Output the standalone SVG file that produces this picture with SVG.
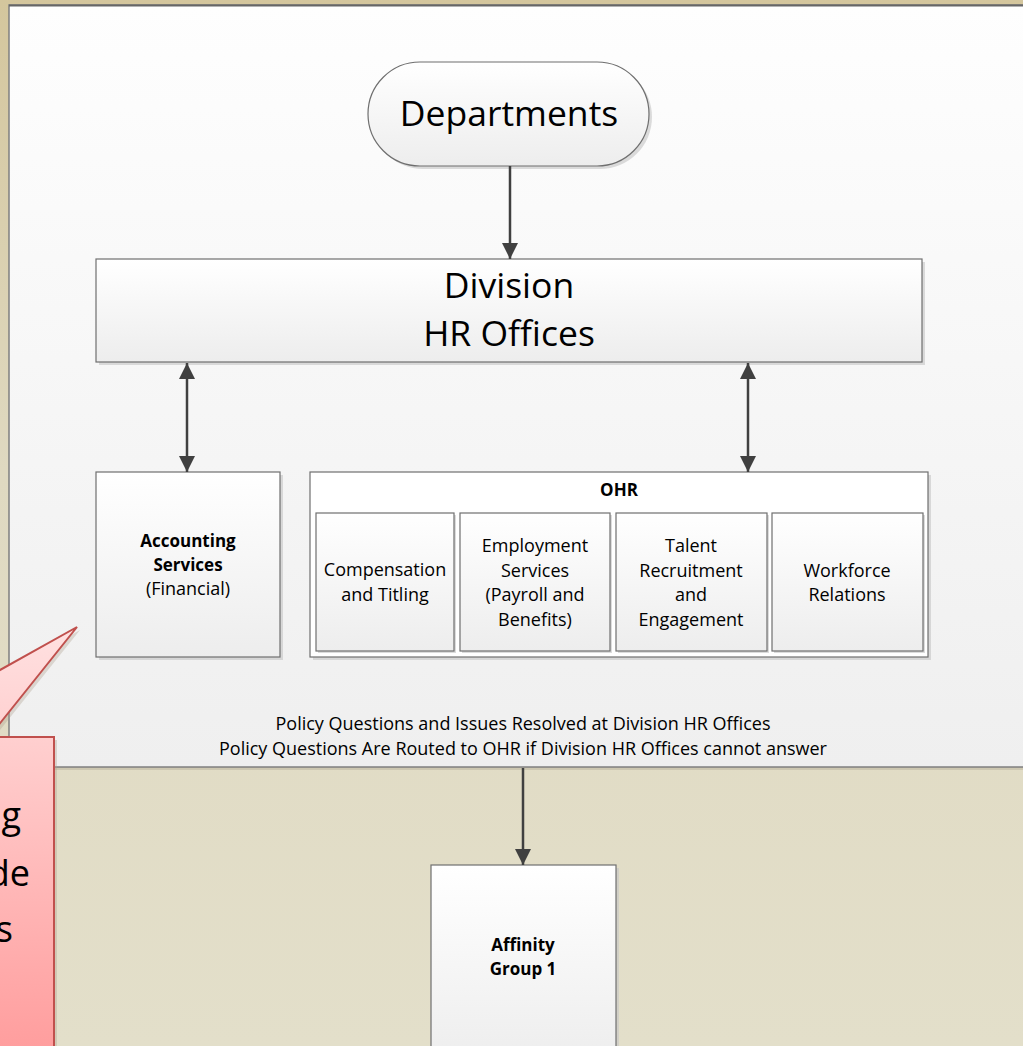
<svg xmlns="http://www.w3.org/2000/svg" width="1023" height="1046" viewBox="0 0 1023 1046">
  <defs>
    <linearGradient id="bg" x1="0" y1="0" x2="0" y2="1">
      <stop offset="0" stop-color="#d4c69d"/>
      <stop offset="0.45" stop-color="#dfd9c1"/>
      <stop offset="1" stop-color="#e3dfca"/>
    </linearGradient>
    <linearGradient id="panel" x1="0" y1="0" x2="0" y2="1">
      <stop offset="0" stop-color="#fefefe"/>
      <stop offset="1" stop-color="#efefef"/>
    </linearGradient>
    <linearGradient id="box" x1="0" y1="0" x2="0" y2="1">
      <stop offset="0" stop-color="#ffffff"/>
      <stop offset="1" stop-color="#ededed"/>
    </linearGradient>
    <linearGradient id="pink" gradientUnits="userSpaceOnUse" x1="0" y1="620" x2="0" y2="1046">
      <stop offset="0" stop-color="#ffe2e2"/>
      <stop offset="1" stop-color="#ff9e9e"/>
    </linearGradient>
    <marker id="arr" viewBox="0 0 16 16" refX="16" refY="8" markerWidth="16" markerHeight="16" markerUnits="userSpaceOnUse" orient="auto-start-reverse">
      <path d="M0 0 L16 8 L0 16 Z" fill="#404040"/>
    </marker>
  </defs>
  <style>
    .bx { fill: url(#box); stroke: #6f6f6f; stroke-width: 1.2; }
    .sh { fill: #c4c4c4; opacity: 0.6; }
    .t { font-family: "Open Sans", "Noto Sans", sans-serif; fill: #000; text-anchor: middle; }
    .big { font-size: 35.5px; }
    .md { font-size: 18px; }
    .sm { font-size: 18px; }
    .b { font-weight: bold; font-size: 17px; }
    .cn { stroke: #404040; stroke-width: 2.5; fill: none; }
  </style>

  <rect x="0" y="0" width="1023" height="1046" fill="url(#bg)"/>

  <g id="panel-bg">
    <rect x="12" y="8" width="1030" height="762" fill="#b9b29c" opacity="0.5"/>
    <rect x="9" y="5" width="1030" height="762" fill="url(#panel)" stroke="#7f7f7f" stroke-width="1.5"/>
    <line x1="9" y1="5.5" x2="1023" y2="5.5" stroke="#666" stroke-width="2"/>
  </g>

  <g id="departments">
    <rect x="371" y="65" width="281" height="104" rx="52" class="sh"/>
    <rect x="368" y="62" width="281" height="104" rx="52" class="bx"/>
    <text x="509" y="126" class="t big">Departments</text>
  </g>

  <g id="division-hr">
    <rect x="99" y="262" width="826" height="103" class="sh"/>
    <rect x="96" y="259" width="826" height="103" class="bx"/>
    <text x="509" y="298" class="t big">Division</text>
    <text x="509" y="346" class="t big">HR Offices</text>
  </g>

  <g id="accounting">
    <rect x="99" y="475" width="184" height="185" class="sh"/>
    <rect x="96" y="472" width="184" height="185" class="bx"/>
    <text x="188" y="547" class="t b">Accounting</text>
    <text x="188" y="571" class="t b">Services</text>
    <text x="188" y="595" class="t md">(Financial)</text>
  </g>

  <g id="ohr">
    <rect x="313" y="475" width="618" height="185" class="sh"/>
    <rect x="310" y="472" width="618" height="185" fill="#ffffff" stroke="#6f6f6f" stroke-width="1.2"/>
    <text x="619" y="496" class="t b">OHR</text>
  </g>

  <g id="compensation">
    <rect x="318" y="515" width="138" height="138" class="sh"/>
    <rect x="316" y="513" width="138" height="138" class="bx"/>
    <text x="385" y="576" class="t md">Compensation</text>
    <text x="385" y="601" class="t md">and Titling</text>
  </g>

  <g id="employment">
    <rect x="462" y="515" width="150" height="138" class="sh"/>
    <rect x="460" y="513" width="150" height="138" class="bx"/>
    <text x="535" y="552" class="t md">Employment</text>
    <text x="535" y="577" class="t md">Services</text>
    <text x="535" y="601" class="t md">(Payroll and</text>
    <text x="535" y="626" class="t md">Benefits)</text>
  </g>

  <g id="talent">
    <rect x="618" y="515" width="151" height="138" class="sh"/>
    <rect x="616" y="513" width="151" height="138" class="bx"/>
    <text x="691" y="552" class="t md">Talent</text>
    <text x="691" y="577" class="t md">Recruitment</text>
    <text x="691" y="601" class="t md">and</text>
    <text x="691" y="626" class="t md">Engagement</text>
  </g>

  <g id="workforce">
    <rect x="774" y="515" width="151" height="138" class="sh"/>
    <rect x="772" y="513" width="151" height="138" class="bx"/>
    <text x="847" y="577" class="t md">Workforce</text>
    <text x="847" y="601" class="t md">Relations</text>
  </g>

  <g id="policy-note">
    <text x="523" y="730" class="t sm">Policy Questions and Issues Resolved at Division HR Offices</text>
    <text x="523" y="755" class="t sm">Policy Questions Are Routed to OHR if Division HR Offices cannot answer</text>
  </g>

  <g id="affinity">
    <rect x="434" y="868" width="185" height="200" class="sh"/>
    <rect x="431" y="865" width="185" height="200" class="bx"/>
    <text x="523" y="951" class="t b">Affinity</text>
    <text x="523" y="975" class="t b">Group 1</text>
  </g>

  <g id="connectors">
    <line x1="510" y1="166" x2="510" y2="259" class="cn" marker-end="url(#arr)"/>
    <line x1="187" y1="363" x2="187" y2="472" class="cn" marker-start="url(#arr)" marker-end="url(#arr)"/>
    <line x1="748" y1="363" x2="748" y2="472" class="cn" marker-start="url(#arr)" marker-end="url(#arr)"/>
    <line x1="523" y1="768" x2="523" y2="865" class="cn" marker-end="url(#arr)"/>
  </g>

  <g id="callout">
    <path d="M80 630 L-8 740 L57 740 L57 1070 L-200 1070 L-200 740 L-117 740 Z" fill="#b0a090" opacity="0.35"/>
    <path d="M77 627 L-11 737 L54 737 L54 1070 L-200 1070 L-200 737 L-120 737 Z" fill="url(#pink)" stroke="#c0504d" stroke-width="2"/>
    <g font-family="'Open Sans', 'Noto Sans', sans-serif" font-size="36" fill="#000" text-anchor="end">
      <text x="21" y="828">g</text>
      <text x="30" y="886">de</text>
      <text x="13" y="942">s</text>
    </g>
  </g>
</svg>
